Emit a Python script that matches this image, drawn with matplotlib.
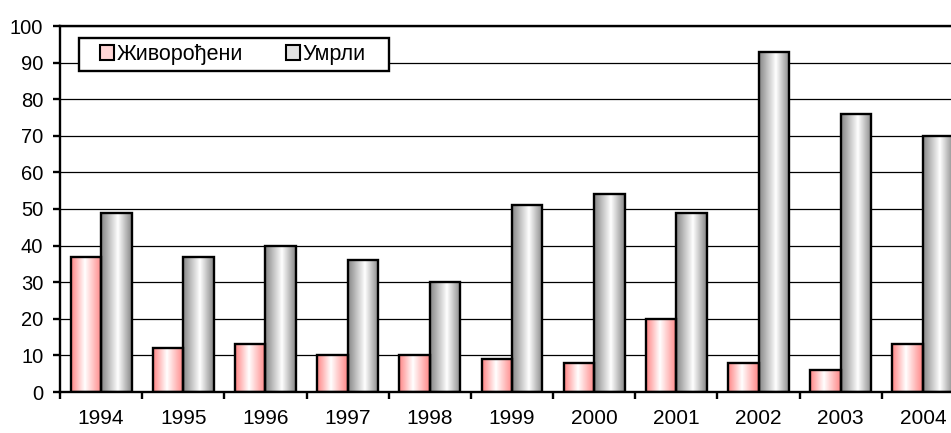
import numpy as np
import matplotlib
matplotlib.use("Agg")
import matplotlib.pyplot as plt
from matplotlib.patches import Patch, Rectangle
from matplotlib.colors import LinearSegmentedColormap

plt.rcParams['font.family'] = ['Liberation Sans', 'DejaVu Sans']

godine = ['1994', '1995', '1996', '1997', '1998', '1999', '2000', '2001', '2002', '2003', '2004']
zivorodjeni = [37, 12, 13, 10, 10, 9, 8, 20, 8, 6, 13]
umrli = [49, 37, 40, 36, 30, 51, 54, 49, 93, 76, 70]

fig = plt.figure(figsize=(9.51, 4.33), dpi=100)
# plot area runs past the right edge of the picture, as in the original
ax = fig.add_axes([60/951, 41/433, 904/951, 366/433])

x = np.arange(len(godine))
w = 0.371

def grad_cmap(edge, mid):
    return LinearSegmentedColormap.from_list('g', [(0, edge), (mid, 'white'), (1, edge)])

pink_cm = grad_cmap('#ff8686', 0.45)
gray_cm = grad_cmap('#888888', 0.55)
grad = np.linspace(0, 1, 64).reshape(1, -1)

b1 = ax.bar(x - w/2, zivorodjeni, w, facecolor='none', edgecolor='black', linewidth=1.7, zorder=3)
b2 = ax.bar(x + w/2, umrli, w, facecolor='none', edgecolor='black', linewidth=1.7, zorder=3)

for bars, cm in [(b1, pink_cm), (b2, gray_cm)]:
    for r in bars:
        x0, y0 = r.get_x(), r.get_y()
        ax.imshow(grad, cmap=cm, aspect='auto', zorder=2,
                  extent=[x0, x0 + r.get_width(), y0, y0 + r.get_height()])

ax.set_xlim(-0.5, len(godine) - 0.5)
ax.set_ylim(0, 100)
ax.set_yticks(range(0, 101, 10))
ax.yaxis.grid(True, color='black', linewidth=0.9, zorder=1)
ax.set_axisbelow(True)

ax.set_xticks(np.arange(len(godine) + 1) - 0.5)
ax.set_xticklabels([])
ax.set_xticks(x, minor=True)
ax.set_xticklabels(godine, minor=True, fontsize=15)
ax.tick_params(axis='x', which='major', length=5, width=1.7, direction='out')
ax.tick_params(axis='x', which='minor', length=0, pad=12)
ax.tick_params(axis='y', length=5, width=1.7, labelsize=14.5, pad=7)

for s in ['left', 'bottom', 'top', 'right']:
    ax.spines[s].set_linewidth(1.7)

# legend box
ax.add_patch(Rectangle((19/904, 321/366), 310/904, 33/366, transform=ax.transAxes,
                       facecolor='white', edgecolor='black', linewidth=1.7, zorder=5))
handles = [Patch(facecolor='#ffd6d6', edgecolor='black', linewidth=1.5),
           Patch(facecolor='#e2e2e2', edgecolor='black', linewidth=1.5)]
leg = ax.legend(handles, ['Живорођени', 'Умрли'], ncol=2, loc='center left',
                bbox_to_anchor=(40/904, 337.5/366), borderaxespad=0, borderpad=0,
                fontsize=15.5, frameon=False, handlelength=0.65, handleheight=0.65,
                handletextpad=0.15, columnspacing=1.95)
leg.set_zorder(6)

fig.savefig('out.png', dpi=100)
